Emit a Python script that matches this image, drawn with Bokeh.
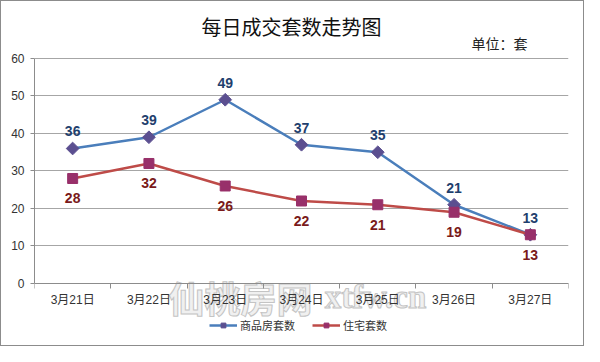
from bokeh.plotting import figure
from bokeh.models import FixedTicker, Legend, LegendItem, Label, ColumnDataSource
from bokeh.embed import file_html
from bokeh.resources import INLINE
from bokeh.core.properties import value

dates = ["3月21日", "3月22日", "3月23日", "3月24日", "3月25日", "3月26日", "3月27日"]
commercial = [36, 39, 49, 37, 35, 21, 13]
residential = [28, 32, 26, 22, 21, 19, 13]
y_ticks = [0, 10, 20, 30, 40, 50, 60]
series_names = ["商品房套数", "住宅套数"]
title_text = "每日成交套数走势图"
unit_text = "单位：套"
watermark_cn = "仙桃房网"
watermark_en = "xtfw.cn"

xs = [i + 0.5 for i in range(len(dates))]
bounds = [float(i) for i in range(len(dates) + 1)]

CJK = "Liberation Sans, Noto Sans CJK SC"

# frame covers the whole canvas height; the y axis itself is bounded to 0..60
p = figure(frame_width=534, frame_height=340, x_range=(0, len(dates)),
           y_range=(-15.4667, 75.2),
           output_backend="svg", toolbar_location=None,
           min_border_left=33, min_border_right=15, min_border_top=0, min_border_bottom=4)
p.styles = {"border": "1px solid #8c8c8c"}
p.title.visible = False
p.outline_line_color = None
p.background_fill_color = "white"
p.border_fill_color = "white"
p.xgrid.visible = False
p.ygrid.grid_line_color = "#a6a6a6"
p.ygrid.grid_line_width = 1

p.yaxis.ticker = FixedTicker(ticks=y_ticks)
p.yaxis.bounds = (0, 60)
p.yaxis.axis_line_color = "#8c8c8c"
p.yaxis.major_tick_line_color = "#8c8c8c"
p.yaxis.major_tick_out = 4
p.yaxis.major_tick_in = 0
p.yaxis.minor_tick_line_color = None
p.yaxis.major_label_text_font = CJK
p.yaxis.major_label_text_font_size = "12px"
p.yaxis.major_label_text_color = "#333333"
p.yaxis.major_label_standoff = 6

p.xaxis.ticker = FixedTicker(ticks=xs, minor_ticks=bounds)
p.xaxis.fixed_location = 0
p.xaxis.major_label_overrides = {x: d for x, d in zip(xs, dates)}
p.xaxis.axis_line_color = "#8c8c8c"
p.xaxis.major_tick_line_color = None
p.xaxis.minor_tick_line_color = "#8c8c8c"
p.xaxis.minor_tick_out = 5
p.xaxis.minor_tick_in = 0
p.xaxis.major_label_text_font = CJK
p.xaxis.major_label_text_font_size = "12px"
p.xaxis.major_label_text_color = "#333333"
p.xaxis.major_label_standoff = 4

src = ColumnDataSource(dict(x=xs, c=commercial, r=residential,
                            ct=[str(v) for v in commercial],
                            rt=[str(v) for v in residential]))

l1 = p.line("x", "c", source=src, line_color="#4a7ebb", line_width=2.5)
m1 = p.scatter("x", "c", source=src, marker="square", size=9, angle=0.785398,
               fill_color="#5b4f90", line_color="#5b4f90")
l2 = p.line("x", "r", source=src, line_color="#be4b48", line_width=2.5)
m2 = p.scatter("x", "r", source=src, marker="square", size=10,
               fill_color="#98306a", line_color="#98306a")

p.text("x", "c", text="ct", source=src, text_align="center", text_baseline="middle",
       y_offset=-17, text_font=value("Liberation Sans"), text_font_style="bold",
       text_font_size="14px", text_color="#1f3f6e")
p.text("x", "r", text="rt", source=src, text_align="center", text_baseline="middle",
       y_offset=20, text_font=value("Liberation Sans"), text_font_style="bold",
       text_font_size="14px", text_color="#7a1a1a")

legend = Legend(items=[LegendItem(label=series_names[0], renderers=[l1, m1]),
                       LegendItem(label=series_names[1], renderers=[l2, m2])],
                location=(175, 8), orientation="horizontal",
                border_line_color=None, background_fill_alpha=0,
                label_text_font=CJK, label_text_font_size="11px",
                label_text_color="#333333", glyph_width=28, glyph_height=12,
                label_height=12, label_standoff=3, spacing=17, padding=0, margin=0)
p.add_layout(legend, "center")

p.add_layout(Label(x=3.369, y=68.53, text=title_text, text_align="center",
                   text_baseline="middle", text_font="Noto Sans CJK SC",
                   text_font_size="20px", text_color="#111111"))
p.add_layout(Label(x=6.096, y=64.0, text=unit_text, text_align="center",
                   text_baseline="middle", text_font="Noto Sans CJK SC",
                   text_font_size="14px", text_color="#222222"))

p.add_layout(Label(x=2.70, y=-3.47, text=watermark_cn, text_align="center",
                   text_baseline="middle", text_font="Noto Sans CJK SC",
                   text_font_style="bold", text_font_size="36px",
                   text_color="#f0f0f0", text_outline_color="#c4c4c4",
                   level="underlay"))
p.add_layout(Label(x=4.47, y=-3.6, text=watermark_en, text_align="center",
                   text_baseline="middle", text_font="Liberation Serif",
                   text_font_style="bold", text_font_size="33px",
                   text_color="#f0f0f0", text_outline_color="#c4c4c4",
                   level="underlay"))

open("out.html", "w").write(file_html(p, INLINE))
